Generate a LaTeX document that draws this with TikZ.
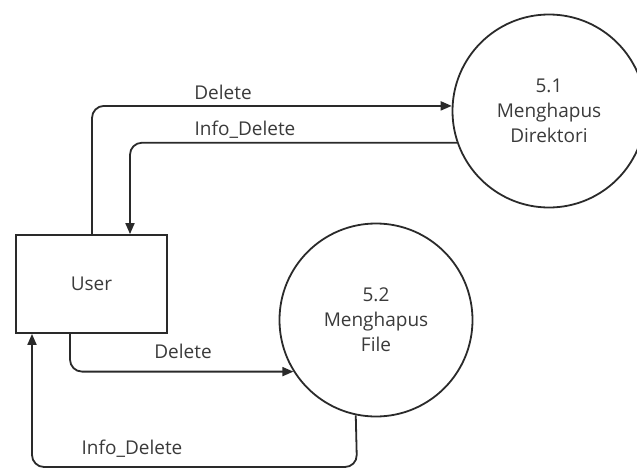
\documentclass[tikz,border=0pt]{standalone}
\usepackage{fontspec}
\setmainfont{Open Sans}
\usetikzlibrary{arrows.meta}
\definecolor{ln}{HTML}{2A2A2A}
\definecolor{tx}{HTML}{3A3A3A}
\begin{document}
\begin{tikzpicture}[x=1pt,y=-1pt,
  every node/.style={font=\fontsize{19}{25}\selectfont, text=tx},
  proc/.style={circle, draw=ln, line width=1.8pt, minimum size=193pt, inner sep=0pt, align=center},
  ent/.style={rectangle, draw=ln, line width=1.8pt, minimum width=151pt, minimum height=98pt, inner sep=0pt},
  flow/.style={draw=ln, line width=1.8pt, rounded corners=12pt, -{Triangle[length=11pt,width=9pt]}},
  lbl/.style={inner sep=0pt}]
\useasboundingbox (0,0) rectangle (637,469);
\node[proc] (c1) at (549,111) {5.1\\Menghapus\\Direktori};
\node[proc] (c2) at (376,320) {5.2\\Menghapus\\File};
\node[ent] (user) at (91.5,284) {User};
% top Delete
\coordinate (a1) at (c1.177.6);
\draw[flow] (user.north -| 92,0) |- (a1);
\node[lbl] (l1) at (223,92) {Delete};
% top Info_Delete
\coordinate (a2) at (c1.199.5);
\draw[flow] (a2) -| (user.north -| 130,0);
\node[lbl] (l2) at (245,130) {Info\_Delete};
% bottom Delete
\coordinate (a3) at (c2.212.4);
\draw[flow] (user.south -| 70,0) |- (a3);
\node[lbl] (l3) at (183,351) {Delete};
% bottom Info_Delete
\coordinate (a4) at (c2.258.7);
\coordinate (b4) at (357,467);
\draw[flow] (a4) -- (b4) -| (user.south -| 32,0);
\node[lbl] (l4) at (132,449) {Info\_Delete};
\end{tikzpicture}
\end{document}
